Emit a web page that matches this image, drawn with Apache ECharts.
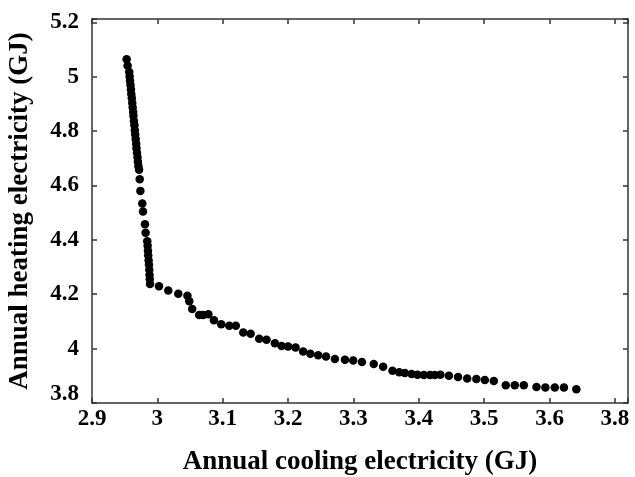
<!DOCTYPE html>
<html>
<head>
<meta charset="utf-8">
<script src="https://cdn.jsdelivr.net/npm/echarts@6/dist/echarts.min.js"></script>
<style>
  html, body { margin: 0; padding: 0; background: #fff; }
  #chart { width: 635px; height: 477px; }
</style>
</head>
<body>
<div id="chart"></div>
<script>
// annual cooling electricity (GJ)
const coolingGJ = [
  2.953, 2.9545,
  2.957, 2.9576, 2.9582, 2.9589, 2.9596, 2.9601, 2.9609, 2.9616, 2.9622, 2.963, 2.9634,
  2.9641, 2.9649, 2.9655, 2.9661, 2.9668, 2.9676, 2.968, 2.9688, 2.9696, 2.9702, 2.971, 2.972,
  2.973, 2.974, 2.977, 2.978, 2.981, 2.982,
  2.9845, 2.9851, 2.9856, 2.986, 2.9866, 2.9871, 2.9876, 2.988, 2.9884, 2.9888,
  3.0025, 3.0167, 3.032, 3.046, 3.0488, 3.0533, 3.064, 3.070, 3.078,
  3.0865, 3.0977, 3.110, 3.120, 3.1314, 3.1427, 3.1558, 3.167, 3.1798, 3.190,
  3.200, 3.2114, 3.223, 3.234, 3.246, 3.258, 3.2716, 3.287, 3.2996, 3.313,
  3.331, 3.3454, 3.3597, 3.370, 3.3786, 3.389, 3.398, 3.4076, 3.417, 3.4245,
  3.433, 3.446, 3.460, 3.474, 3.488, 3.501, 3.5147, 3.533, 3.5468, 3.5606,
  3.580, 3.5936, 3.608, 3.622, 3.641
]
// annual heating electricity (GJ)
const heatingGJ = [
  5.064, 5.040,
  5.017, 5.001, 4.984, 4.969, 4.953, 4.936, 4.921, 4.903, 4.887, 4.870, 4.855,
  4.837, 4.821, 4.803, 4.787, 4.771, 4.753, 4.737, 4.720, 4.704, 4.687, 4.671, 4.658,
  4.623, 4.580, 4.534, 4.504, 4.457, 4.426,
  4.395, 4.378, 4.360, 4.343, 4.325, 4.308, 4.290, 4.272, 4.255, 4.238,
  4.229, 4.214, 4.202, 4.194, 4.174, 4.146, 4.124, 4.124, 4.126,
  4.104, 4.090, 4.084, 4.084, 4.059, 4.055, 4.036, 4.033, 4.020, 4.010,
  4.008, 4.004, 3.989, 3.981, 3.976, 3.971, 3.962, 3.959, 3.956, 3.951,
  3.943, 3.933, 3.919, 3.913, 3.910, 3.907, 3.904, 3.903, 3.903, 3.903,
  3.904, 3.900, 3.896, 3.890, 3.888, 3.885, 3.881, 3.865, 3.865, 3.865,
  3.859, 3.857, 3.857, 3.857, 3.851
]

const xTickLabels = ['2.9', '3', '3.1', '3.2', '3.3', '3.4', '3.5', '3.6', '3.8']
const yTickLabels = ['3.8', '4', '4.2', '4.4', '4.6', '4.8', '5', '5.2']

const X_MIN = 2.9, X_MAX = 3.72, X_STEP = 0.1
const Y_MIN = 3.8, Y_MAX = 5.212, Y_STEP = 0.2

const font = 'Liberation Serif'
const tickFont = {fontFamily: font, fontWeight: 'bold', fontSize: 23, color: '#000'}
const titleFont = {fontFamily: font, fontWeight: 'bold', fontSize: 27, color: '#000'}
const lineStyle = {color: '#333', width: 1.5}

function tickText(labels, min, step, liftFirst) {
  return function (v) {
    const i = Math.round((v - min) / step)
    if (Math.abs(v - (min + i * step)) > 1e-6) return ''
    const s = labels[i] || ''
    // bottom-left label sits a little above the corner in the original
    if (liftFirst && i === 0) return '{lift|' + s + '}'
    return s
  }
}

const pts = coolingGJ.map((x, i) => [x, heatingGJ[i]])

const chart = echarts.init(document.getElementById('chart'))

const xBase = {
  type: 'value', min: X_MIN, max: X_MAX, interval: X_STEP,
  axisLine: {show: true, onZero: false, lineStyle: lineStyle},
  axisTick: {show: true, inside: true, length: 5, lineStyle: lineStyle},
  splitLine: {show: false}
}
const yBase = {
  type: 'value', min: Y_MIN, max: Y_MAX, interval: Y_STEP,
  axisLine: {show: true, onZero: false, lineStyle: lineStyle},
  axisTick: {show: true, inside: true, length: 5, lineStyle: lineStyle},
  splitLine: {show: false}
}

chart.setOption({
  animation: false,
  backgroundColor: '#fff',
  grid: {left: 92, right: 7, top: 19, bottom: 74, outerBoundsMode: 'none'},
  xAxis: [
    Object.assign({}, xBase, {
      position: 'bottom',
      name: 'Annual cooling electricity (GJ)',
      nameLocation: 'middle',
      nameGap: 46,
      nameTextStyle: titleFont,
      axisLabel: Object.assign({margin: 5, formatter: tickText(xTickLabels, X_MIN, X_STEP, false)}, tickFont)
    }),
    Object.assign({}, xBase, {position: 'top', axisLabel: {show: false}})
  ],
  yAxis: [
    Object.assign({}, yBase, {
      position: 'left',
      name: 'Annual heating electricity (GJ)',
      nameLocation: 'middle',
      nameGap: 58,
      nameTextStyle: titleFont,
      axisLabel: Object.assign({
        margin: 13,
        formatter: tickText(yTickLabels, Y_MIN, Y_STEP, true),
        rich: {lift: Object.assign({padding: [0, 0, 18, 0]}, tickFont)}
      }, tickFont)
    }),
    Object.assign({}, yBase, {position: 'right', axisLabel: {show: false}})
  ],
  series: [{
    type: 'scatter',
    data: pts,
    symbol: 'circle',
    symbolSize: 8.5,
    itemStyle: {color: '#000', opacity: 1}
  }]
})
</script>
</body>
</html>
